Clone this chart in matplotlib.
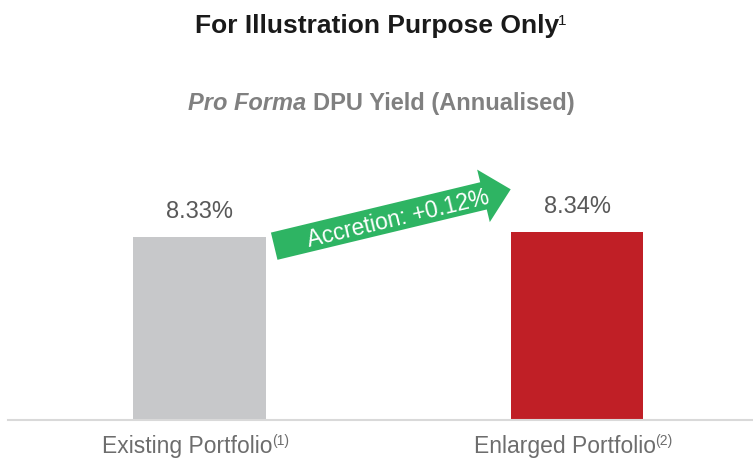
import matplotlib
matplotlib.use("Agg")
import matplotlib.pyplot as plt
from matplotlib.patches import FancyArrow
import numpy as np

plt.rcParams['font.family'] = ['Liberation Sans', 'DejaVu Sans']

# data
categories = ['Existing Portfolio', 'Enlarged Portfolio']
notes = ['(1)', '(2)']
dpu_yield = [8.33, 8.34]
accretion = 0.12
bar_colors = ['#C7C8CA', '#C01F26']

W, H = 753, 459
fig = plt.figure(figsize=(W / 100, H / 100), dpi=100)
r = fig.canvas.get_renderer()

# axes placed in pixels: baseline at y=420 from top
ax_left, ax_bottom, ax_top = 8, 420, 130
ax = fig.add_axes([ax_left / W, (H - ax_bottom) / H, 1 - ax_left / W, (ax_bottom - ax_top) / H])

x = np.arange(len(categories))
ax.bar(x, dpu_yield, width=0.352, color=bar_colors)
ax.set_xlim(-0.507, 1.466)
ax.set_ylim(7.964, 7.964 + (ax_bottom - ax_top) / 500)

for xi, v in zip(x, dpu_yield):
    ax.annotate(f'{v:.2f}%', (xi, v), xytext=(0, 14), textcoords='offset points',
                ha='center', va='baseline', fontsize=17, color='#595959')

ax.set_xticks([])
ax.set_yticks([])
for s in ['top', 'right', 'left']:
    ax.spines[s].set_visible(False)
ax.spines['bottom'].set_color('#d9d9d9')
ax.spines['bottom'].set_linewidth(1.5)


def label_with_sup(cx, base, main, sup, size, sup_size, rise, color, weight='normal', gap=-1):
    # main text + small raised note, the pair centred on cx (pixels from left)
    t = fig.text(0, 0, main, fontsize=size, color=color, fontweight=weight, va='baseline')
    s = fig.text(0, 0, sup, fontsize=sup_size, color=color, va='baseline')
    wm = t.get_window_extent(r).width
    ws = s.get_window_extent(r).width
    x0 = cx - (wm + ws + gap) / 2
    t.set_position((x0 / W, (H - base) / H))
    s.set_position(((x0 + wm + gap) / W, (H - base + rise) / H))


# category labels under the bars
bar_px = [199.5, 577]
for px, c, n in zip(bar_px, categories, notes):
    label_with_sup(px - 4, 453, c, n, 16.5, 10, 8, '#6d6d6d')

# accretion arrow (pixel -> inch coordinates)
tail = np.array([274.2, H - 246.2])
tip = np.array([510.7, H - 189.3])
d = tip - tail
arrow = FancyArrow(tail[0] / 100, tail[1] / 100, d[0] / 100, d[1] / 100,
                   width=0.28, head_width=0.54, head_length=0.28,
                   length_includes_head=True, color='#2EB463', lw=0,
                   transform=fig.dpi_scale_trans)
fig.add_artist(arrow)
ang = np.degrees(np.arctan2(d[1], d[0]))
cx = 398
cy = tail[1] + (cx - tail[0]) * d[1] / d[0]
fig.text(cx / W, cy / H, f'Accretion: +{accretion:.2f}%', rotation=ang,
         rotation_mode='anchor', ha='center', va='center_baseline',
         fontsize=16.5, color='white')

# titles
label_with_sup(381, 33, 'For Illustration Purpose Only', '1', 19, 11, 8, '#1a1a1a', weight='bold')

p1 = fig.text(0, 0, 'Pro Forma ', fontsize=17, fontweight='bold', style='italic', color='#808080')
p2 = fig.text(0, 0, 'DPU Yield (Annualised)', fontsize=17, fontweight='bold', color='#808080')
w1 = p1.get_window_extent(r).width
w2 = p2.get_window_extent(r).width
x0 = 381 - (w1 + w2) / 2
p1.set_position((x0 / W, (H - 110) / H))
p2.set_position(((x0 + w1) / W, (H - 110) / H))
p1.set_va('baseline')
p2.set_va('baseline')

fig.savefig('out.png', dpi=100)
